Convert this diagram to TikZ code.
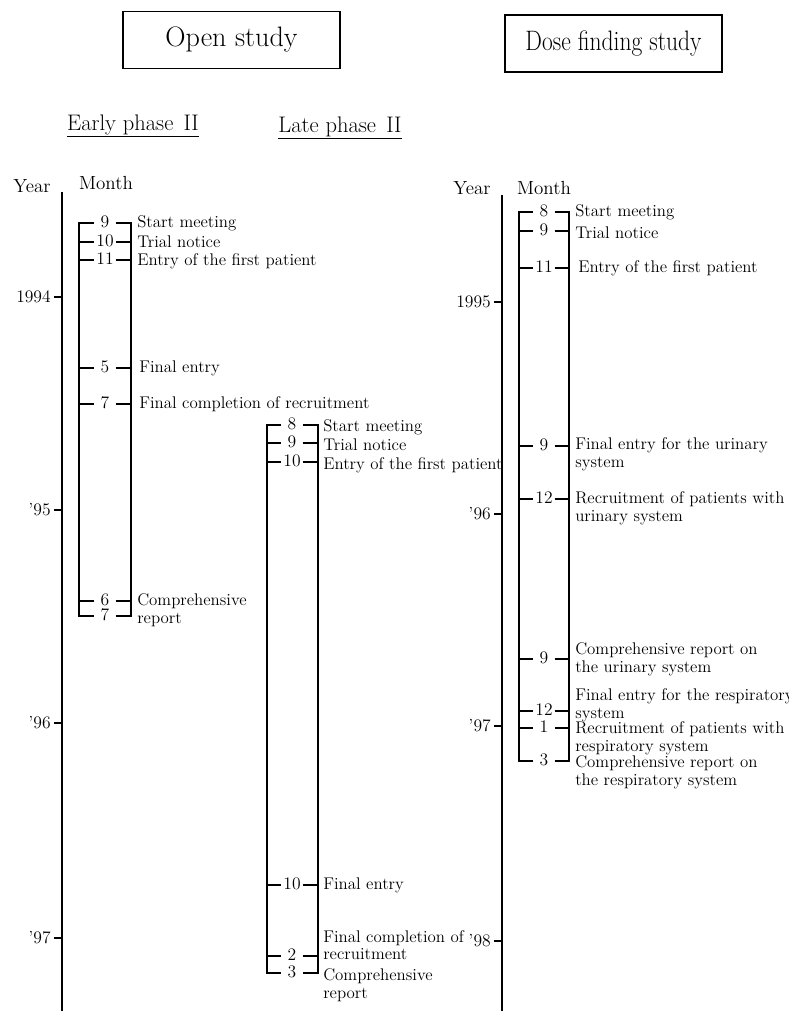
\documentclass[tikz,border=0pt]{standalone}
\usepackage{graphicx}
\usetikzlibrary{positioning}
\tikzset{
  titlebox/.style = {rectangle, draw, line width=1pt, minimum width=5.43cm,
                     minimum height=1.43cm, font=\fontsize{20}{24}\selectfont},
  phaselbl/.style = {inner sep=0pt, font=\fontsize{16}{19}\selectfont},
  uline/.style    = {line width=0.9pt},
  hdr/.style      = {inner sep=0pt, font=\fontsize{13.5}{15}\selectfont},
  yearlbl/.style  = {anchor=east, inner sep=0pt, font=\fontsize{12.5}{14}\selectfont},
  mnum/.style     = {inner sep=0pt, minimum width=0.52cm, text height=1.4ex, text depth=0pt,
                     font=\fontsize{12.5}{14}\selectfont},
  evt/.style      = {anchor=west, align=left, inner sep=0pt,
                     font=\fontsize{12}{12.5}\selectfont},
  yaxis/.style    = {line width=1.9pt},
  ytick/.style    = {line width=1.4pt},
  brk/.style      = {line width=1.4pt, line cap=rect},
  mtick/.style    = {line width=1.4pt},
}

\begin{document}
\begin{tikzpicture}[x=0.025cm, y=-0.025cm]
\useasboundingbox (0,0) rectangle (788,1011);

% study titles
\node[titlebox] (open) at (231.5,40)  {Open study};
\node[titlebox] (dose) at (613.5,43.5) {\scalebox{0.835}[1]{Dose finding study}};

% phase headings
\node[phaselbl, anchor=base] (early) at (133,131) {Early phase\hspace{0.45em}II};
\node[phaselbl, anchor=base] (late)  at (340,133) {Late phase\hspace{0.45em}II};
\draw[uline] ([yshift=-0.7pt]early.south west) -- ([yshift=-0.7pt]early.south east);
\draw[uline] ([yshift=-0.7pt]late.south west) -- ([yshift=-0.7pt]late.south east);

% column headings
\node[hdr] (yearA)  at (32,186)  {Year};
\node[hdr] (monthA) at (106,183) {Month};
\node[hdr] (yearB)  at (472,188) {Year};
\node[hdr] (monthB) at (544,188) {Month};

% year axes
\coordinate (axAtop) at (62,192);
\coordinate (axAbot) at (62,1011);
\coordinate (axBtop) at (502,195);
\coordinate (axBbot) at (502,1011);
\draw[yaxis] (axAtop) -- (axAbot);
\draw[yaxis] (axBtop) -- (axBbot);
\foreach \yy/\lab [count=\i] in {297/1994, 510/'95, 723/'96, 938/'97} {
  \node[yearlbl] (ya\i) at (51,\yy) {\lab};
  \draw[ytick] (54,\yy) -- (62,\yy);
}
\foreach \yy/\lab [count=\i] in {302/1995, 514/'96, 726/'97, 941/'98} {
  \node[yearlbl] (yb\i) at (491,\yy) {\lab};
  \draw[ytick] (494,\yy) -- (502,\yy);
}

% early phase II
\draw[brk] (79,223) -- (79,616);
\draw[brk] (131,223) -- (131,616);
\foreach \m/\yy [count=\i] in {9/223, 10/242, 11/260, 5/368, 7/404, 6/601, 7/616} {
  \node[mnum] (ea\i) at (105,\yy) {\m};
  \draw[mtick] (79,\yy) -- (ea\i.west) (ea\i.east) -- (131,\yy);
}
\node[evt] (ea-start) at (137,223) {Start meeting};
\node[evt] (ea-trial) at (137,242) {Trial notice};
\node[evt] (ea-first) at (137,261) {Entry of the first patient};
\node[evt] (ea-final) at (139,368) {Final entry};
\node[evt] (ea-compl) at (139,404) {Final completion of recruitment};
\node[evt] (ea-rep)   at (137,610) {Comprehensive\\report};

% late phase II
\draw[brk] (267,425) -- (267,973);
\draw[brk] (318,425) -- (318,973);
\foreach \m/\yy [count=\i] in {8/425, 9/443, 10/462, 10/885, 2/956, 3/973} {
  \node[mnum] (la\i) at (292,\yy) {\m};
  \draw[mtick] (267,\yy) -- (la\i.west) (la\i.east) -- (318,\yy);
}
\node[evt] (la-start) at (323,427) {Start meeting};
\node[evt] (la-trial) at (323,445) {Trial notice};
\node[evt] (la-first) at (323,465) {Entry of the first patient};
\node[evt] (la-final) at (323,885) {Final entry};
\node[evt] (la-compl) at (323,945) {Final completion of\\recruitment};
\node[evt] (la-rep)   at (323,985) {Comprehensive\\report};

% dose finding study
\draw[brk] (519,212) -- (519,761);
\draw[brk] (569,212) -- (569,761);
\foreach \m/\yy [count=\i] in {8/212, 9/231, 11/268, 9/446, 12/499, 9/659, 12/711, 1/728, 3/761} {
  \node[mnum] (df\i) at (544,\yy) {\m};
  \draw[mtick] (519,\yy) -- (df\i.west) (df\i.east) -- (569,\yy);
}
\node[evt] (df-start) at (575,212) {Start meeting};
\node[evt] (df-trial) at (575,233) {Trial notice};
\node[evt] (df-first) at (578,268) {Entry of the first patient};
\node[evt] (df-finu)  at (575,454) {Final entry for the urinary\\system};
\node[evt] (df-recu)  at (575,508) {Recruitment of patients with\\urinary system};
\node[evt] (df-repu)  at (575,659) {Comprehensive report on\\the urinary system};
\node[evt] (df-finr)  at (575,705) {Final entry for the respiratory\\system};
\node[evt] (df-recr)  at (575,738) {Recruitment of patients with\\respiratory system};
\node[evt] (df-repr)  at (575,772) {Comprehensive report on\\the respiratory system};
\end{tikzpicture}
\end{document}
